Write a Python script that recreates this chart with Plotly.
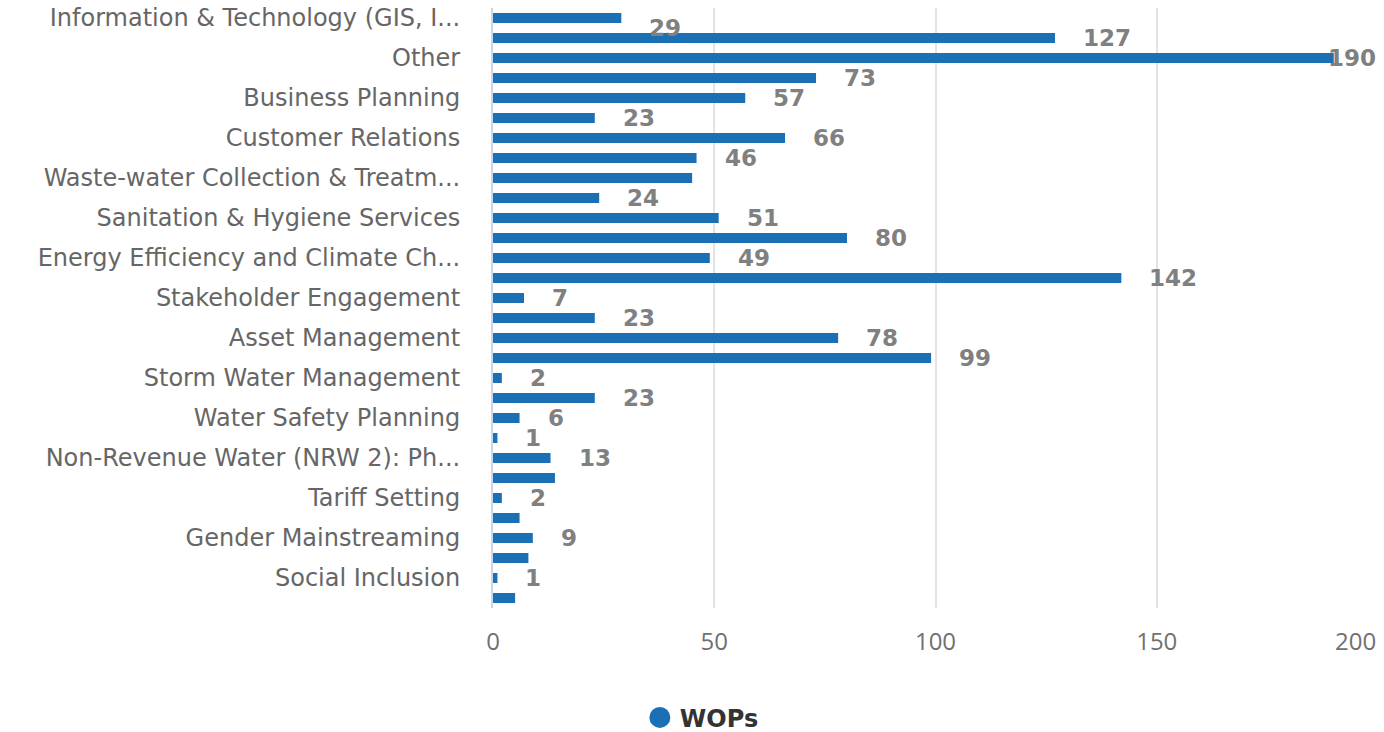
import plotly.graph_objects as go

categories = [
    "Information & Technology (GIS, I...", "Water Supply Operations",
    "Other", "Human Resources",
    "Business Planning", "Financial Management",
    "Customer Relations", "Governance",
    "Waste-water Collection & Treatm...", "Water Quality",
    "Sanitation & Hygiene Services", "Water Resources Management",
    "Energy Efficiency and Climate Ch...", "Water Treatment",
    "Stakeholder Engagement", "Pro-poor Services",
    "Asset Management", "Non-Revenue Water (NRW 1)",
    "Storm Water Management", "Leadership",
    "Water Safety Planning", "Procurement",
    "Non-Revenue Water (NRW 2): Ph...", "Laboratory",
    "Tariff Setting", "Emergency Preparedness",
    "Gender Mainstreaming", "Regulation",
    "Social Inclusion", "Metering",
]
wops = [29, 127, 190, 73, 57, 23, 66, 46, 45, 24,
        51, 80, 49, 142, 7, 23, 78, 99, 2, 23,
        6, 1, 13, 14, 2, 6, 9, 8, 1, 5]
label_shown = [True, True, True, True, True, True, True, True, False, True,
               True, True, True, True, True, True, True, True, True, True,
               True, True, True, False, True, False, True, False, True, False]
tick_labels = categories[0::2]
x_ticks = [0, 50, 100, 150, 200]

BLUE = "#1b6fb5"
x_max = 200

fig = go.Figure()
fig.add_trace(go.Bar(
    x=wops, y=categories, orientation="h",
    marker=dict(color=BLUE, line=dict(width=0)),
    showlegend=False, hoverinfo="x+y",
))
fig.add_trace(go.Scatter(
    x=[None], y=[None], mode="markers", name="WOPs",
    marker=dict(color=BLUE, size=20, symbol="circle",
                line=dict(color=BLUE, width=10)),
))

annotations = []
for i, (c, v, s) in enumerate(zip(categories, wops, label_shown)):
    if not s:
        continue
    txt = str(v)
    near_edge = v > x_max - 15
    annotations.append(dict(
        x=x_max if near_edge else v, y=c, xref="x", yref="y",
        text=txt, showarrow=False,
        xanchor="right" if near_edge else "left",
        xshift=0 if near_edge else 26,
        yshift=-10 if i == 0 else 0,
        font=dict(family="DejaVu Sans", size=23, color="#808080", weight="bold"),
    ))
# last x tick label, kept inside the plot edge
annotations.append(dict(
    x=x_ticks[-1], y=0, xref="x", yref="paper", yshift=-32,
    text=str(x_ticks[-1]), showarrow=False, xanchor="right", yanchor="middle",
    font=dict(family="Open Sans", size=24, color="#707070"),
))

n = len(categories)
fig.update_layout(
    width=1384, height=732,
    margin=dict(l=493, r=6, t=8, b=124, autoexpand=False),
    plot_bgcolor="white", paper_bgcolor="white",
    bargap=0.5,
    annotations=annotations,
    xaxis=dict(
        range=[0, x_max], tickvals=x_ticks,
        ticktext=[str(t) for t in x_ticks[:-1]] + [""],
        showgrid=True, gridcolor="#e3e3e3", gridwidth=2,
        zeroline=False, showline=False, ticks="",
        ticklabelstandoff=17,
        tickfont=dict(family="Open Sans", size=24, color="#707070"),
        fixedrange=True,
    ),
    yaxis=dict(
        categoryorder="array", categoryarray=categories,
        range=[n - 0.5, -0.5], autorange=False,
        tickvals=tick_labels, ticktext=tick_labels,
        showgrid=False, zeroline=False,
        showline=True, linecolor="#c8d6ea", linewidth=2,
        ticks="", ticklabelstandoff=26,
        tickfont=dict(family="DejaVu Sans", size=24, color="#666666"),
        automargin=False,
    ),
    legend=dict(
        orientation="h", x=0.236, xanchor="center", y=-0.183, yanchor="middle",
        font=dict(family="DejaVu Sans", size=24, color="#333333", weight="bold"),
        itemsizing="trace",
    ),
)

fig.write_html("out.html", config={"displayModeBar": False},
               post_script="document.body.style.margin='0';")
